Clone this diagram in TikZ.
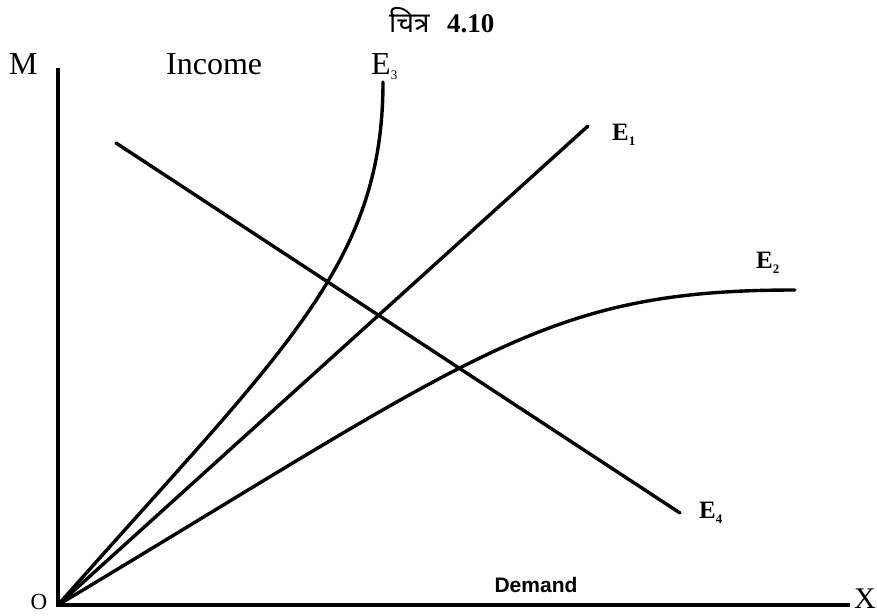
\documentclass[tikz,border=0pt]{standalone}
\usepackage{fontspec}
\setmainfont{Liberation Serif}
\newfontfamily\sansfont{Liberation Sans}
\newfontfamily\devfont[Script=Devanagari]{Noto Sans}
\begin{document}
\begin{tikzpicture}[x=1pt,y=-1pt,
  curve/.style={line width=3.4pt,line cap=round,line join=round},
  axisline/.style={line width=4pt},
  lbl/.style={inner sep=0pt,anchor=base west,font=\fontsize{32}{32}\selectfont},
  elbl/.style={inner sep=0pt,anchor=base west,font=\fontsize{25}{25}\selectfont\bfseries}]
\useasboundingbox (0,0) rectangle (877,615);
% axes
\coordinate (O) at (58,605);
\coordinate (Mtop) at (58,68);
\coordinate (Xend) at (850,605);
\draw[axisline] (Mtop) -- (O) -- (Xend);
% end points
\coordinate (E1end) at (588,126);
\coordinate (E2end) at (795,290);
\coordinate (E3end) at (383,82);
\coordinate (E4start) at (116,143);
\coordinate (E4end) at (680,513);
% E1 straight
\draw[curve] (O) -- (E1end);
% E4 straight
\draw[curve] (E4start) -- (E4end);
% E3 curve
\draw[curve] (O) .. controls (280,353) and (383,267) .. (E3end);
% E2 curve
\draw[curve] (O) .. controls (480,352) and (545,290) .. (E2end);
% labels
\node[lbl] (Mlbl) at (9,75) {M};
\node[lbl] (income) at (166,75) {Income};
\node[lbl] (E3lbl) at (371,75) {E\raisebox{-5pt}{\fontsize{13}{13}\selectfont 3}};
\node[elbl] (E1lbl) at (612,140) {E\raisebox{-5pt}{\fontsize{13}{13}\selectfont 1}};
\node[elbl] (E2lbl) at (756,268) {E\raisebox{-5pt}{\fontsize{13}{13}\selectfont 2}};
\node[elbl] (E4lbl) at (699,518) {E\raisebox{-5pt}{\fontsize{13}{13}\selectfont 4}};
\node[inner sep=0pt,anchor=base,font=\sansfont\bfseries\fontsize{21}{21}\selectfont] (demand) at (536,592) {Demand};
\node[inner sep=0pt,font=\fontsize{23}{23}\selectfont] (Olbl) at (39,602) {O};
\node[inner sep=0pt,anchor=base east,font=\fontsize{30}{30}\selectfont] (Xlbl) at (876,608) {X};
% title
\node[inner sep=0pt,anchor=base west,font=\devfont\bfseries\fontsize{28}{28}\selectfont] (t1) at (389,33) {चित्र};
\node[inner sep=0pt,anchor=base west,font=\bfseries\fontsize{27}{27}\selectfont] (t2) at (447,33) {4.10};
\end{tikzpicture}
\end{document}
